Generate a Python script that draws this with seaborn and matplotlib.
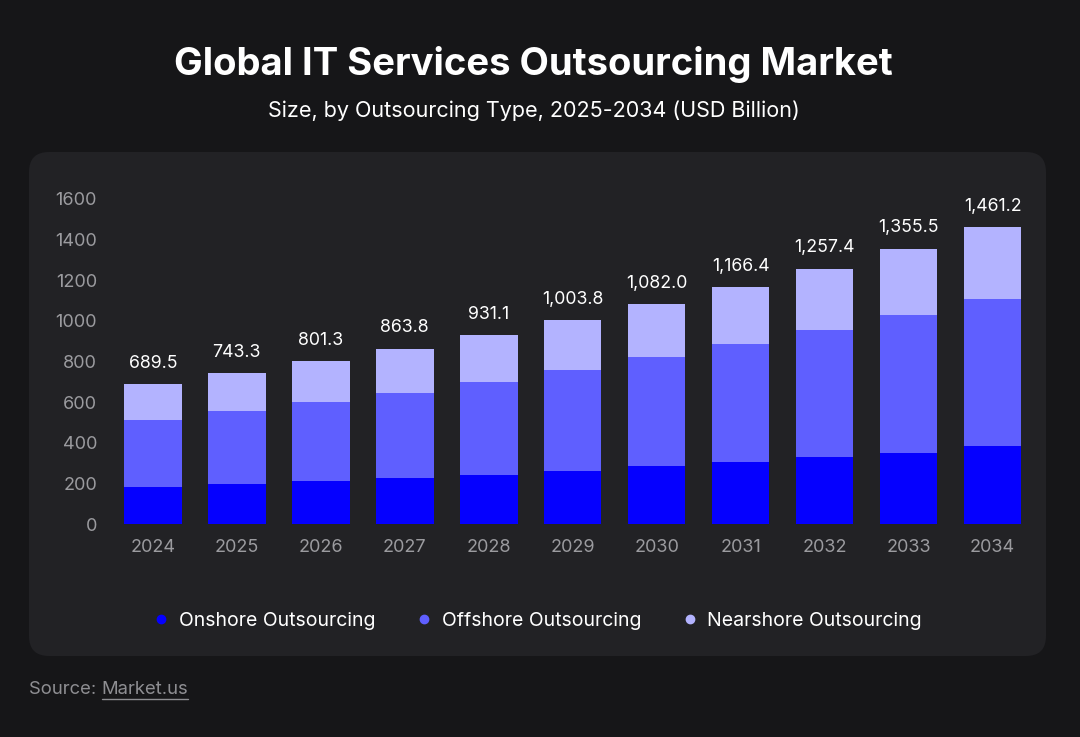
import matplotlib
matplotlib.use("Agg")
import pandas as pd
import matplotlib.pyplot as plt
import seaborn as sns
from matplotlib.patches import FancyBboxPatch
from matplotlib.lines import Line2D

# Data (USD billion)
years = ["2024", "2025", "2026", "2027", "2028", "2029", "2030", "2031", "2032", "2033", "2034"]
onshore = [181, 195, 210, 225, 240, 261, 286, 306, 330, 350, 382]
offshore = [331, 361, 390, 421, 458, 496, 534, 578, 624, 680, 724]
nearshore = [177.5, 187.3, 201.3, 217.8, 233.1, 246.8, 262.0, 282.4, 303.4, 325.5, 355.2]
series = ["Onshore Outsourcing", "Offshore Outsourcing", "Nearshore Outsourcing"]
colors = ["#0500ff", "#5f5fff", "#b3b3ff"]
yticks = [0, 200, 400, 600, 800, 1000, 1200, 1400, 1600]

df = pd.DataFrame({"Year": years, "Onshore": onshore, "Offshore": offshore, "Nearshore": nearshore})
df["Total"] = df["Onshore"] + df["Offshore"] + df["Nearshore"]

sns.set_style("dark")
plt.rcParams["font.family"] = ["Inter", "DejaVu Sans"]

BG = "#161618"
PANEL = "#222225"

fig = plt.figure(figsize=(10.8, 7.37), dpi=100, facecolor=BG)

panel = FancyBboxPatch((0.29, 0.81), 10.17, 5.04, boxstyle="round,pad=0,rounding_size=0.2",
                       transform=fig.dpi_scale_trans, facecolor=PANEL, edgecolor="none", zorder=-5)
fig.patches.append(panel)

ax = fig.add_axes([0.1026, 0.289, 0.8554, 0.441])
ax.set_facecolor("none")
ax.set_zorder(2)

bottoms = [0] * len(years)
for col, name, c in zip(["Onshore", "Offshore", "Nearshore"], series, colors):
    sns.barplot(data=df, x="Year", y=col, color=c, width=0.685, bottom=bottoms,
                ax=ax, errorbar=None, saturation=1, linewidth=0)
    bottoms = [b + v for b, v in zip(bottoms, df[col])]

for i, tot in enumerate(df["Total"]):
    ax.text(i, tot + 60, f"{tot:,.1f}", ha="center", va="bottom", color="white", fontsize=12.8)

ax.set_ylim(0, 1600)
ax.set_xlim(-0.5, len(years) - 0.5)
ax.set_yticks(yticks)
ax.set_yticklabels([str(t) for t in yticks])
ax.tick_params(axis="both", colors="#9b9b9f", labelsize=13, length=0)
ax.tick_params(axis="y", pad=10)
ax.tick_params(axis="x", pad=11)
ax.set_xlabel("")
ax.set_ylabel("")
ax.grid(False)
for s in ax.spines.values():
    s.set_visible(False)

fig.text(0.494, 0.912, "Global IT Services Outsourcing Market", ha="center", va="center",
         color="white", fontsize=27.5, fontweight="bold")
fig.text(0.494, 0.85, "Size, by Outsourcing Type, 2025-2034 (USD Billion)", ha="center", va="center",
         color="white", fontsize=15.5)

handles = [Line2D([0], [0], marker="o", linestyle="none", markersize=6, markerfacecolor=c,
                  markeredgecolor=c) for c in colors]
fig.legend(handles, series, loc="center", bbox_to_anchor=(0.497, 0.157), ncol=3, frameon=False,
           fontsize=14, labelcolor="white", handletextpad=0.4, columnspacing=2.0, handlelength=1.0)

src = fig.text(0.027, 0.064, "Source: ", ha="left", va="center", color="#8e8e92", fontsize=13.3)
fig.canvas.draw()
r = fig.canvas.get_renderer()
bb = src.get_window_extent(r)
x1 = bb.x1 / fig.bbox.width
link = fig.text(x1, 0.064, "Market.us", ha="left", va="center", color="#8e8e92", fontsize=13.3)
bb2 = link.get_window_extent(r)
yl = (bb2.y0 - 1) / fig.bbox.height
fig.lines.append(Line2D([bb2.x0 / fig.bbox.width, bb2.x1 / fig.bbox.width], [yl, yl],
                        transform=fig.transFigure, color="#8e8e92", linewidth=1))

fig.savefig("out.png", dpi=100, facecolor=BG)
